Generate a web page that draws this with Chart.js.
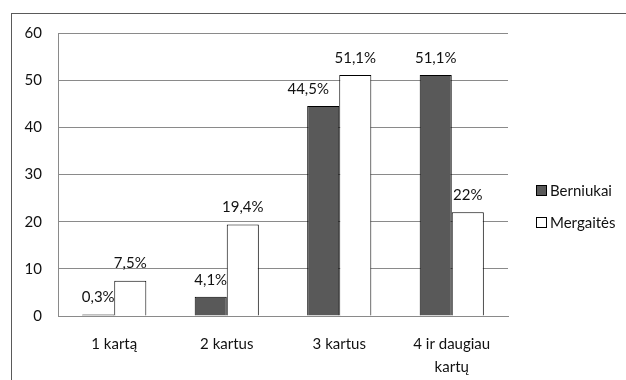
<!DOCTYPE html>
<html>
<head>
<meta charset="utf-8">
<script src="https://cdn.jsdelivr.net/npm/chart.js@4"></script>
<style>
    html, body { margin: 0; padding: 0; background: #fff; overflow: hidden; }
    #wrap { position: relative; width: 626px; height: 380px; }
    #frame { position: absolute; left: 11px; top: 13px; width: 700px; height: 500px;
             border-top: 1px solid #5a5a5a; border-left: 1px solid #5a5a5a; }
    #chart { position: absolute; left: 0; top: 0; }
    #legend { position: absolute; left: 536px; top: 179px; font-family: Lato, 'Liberation Sans', sans-serif;
              font-size: 15px; color: #111; }
    #legend div { height: 32px; line-height: 22px; white-space: nowrap; }
    #legend span.box { display: inline-block; width: 9px; height: 9px; border: 1px solid #000;
                       margin-right: 3px; vertical-align: 0px; }
</style>
</head>
<body>
<div id="wrap">
    <div id="frame"></div>
    <canvas id="chart" width="626" height="380"></canvas>
    <div id="legend"></div>
</div>
<script>
// --- données ---
const categories = ['1 kartą', '2 kartus', '3 kartus', ['4 ir daugiau', 'kartų']];
const berniukai = [0.3, 4.1, 44.5, 51.1];
const mergaites = [7.5, 19.4, 51.1, 22];
const seriesNames = ['Berniukai', 'Mergaitės'];
const yTicks = [0, 10, 20, 30, 40, 50, 60];

const police = "Lato, 'Liberation Sans', sans-serif";

// étiquettes de valeur au-dessus des barres
// (l'étiquette 44,5% est un peu décalée à gauche comme dans l'original)
const decalages = { '0-2': -15 };
const etiquettes = {
    id: 'etiquettes',
    afterDatasetsDraw(chart) {
        const ctx = chart.ctx;
        ctx.save();
        ctx.font = '15px ' + police;
        ctx.fillStyle = '#111';
        ctx.textAlign = 'center';
        ctx.textBaseline = 'middle';
        chart.data.datasets.forEach((ds, i) => {
            chart.getDatasetMeta(i).data.forEach((bar, j) => {
                const txt = String(ds.data[j]).replace('.', ',') + '%';
                const dx = decalages[i + '-' + j] || 0;
                ctx.fillText(txt, bar.x + dx, bar.y - 17);
            });
        });
        ctx.restore();
    }
};

const ctx = document.getElementById('chart').getContext('2d');
const chart = new Chart(ctx, {
    type: 'bar',
    data: {
        labels: categories,
        datasets: [{
            label: seriesNames[0],
            data: berniukai,
            backgroundColor: '#595959',
            borderColor: '#000',
            borderWidth: 1
        }, {
            label: seriesNames[1],
            data: mergaites,
            backgroundColor: '#ffffff',
            borderColor: '#000',
            borderWidth: 1
        }]
    },
    options: {
        responsive: false,
        animation: false,
        layout: { padding: { left: 0, top: 33, right: 118, bottom: 0 } },
        datasets: { bar: { categoryPercentage: 0.57, barPercentage: 1.0 } },
        scales: {
            y: {
                min: 0,
                max: 60,
                afterBuildTicks: (axis) => { axis.ticks = yTicks.map(v => ({ value: v })); },
                afterFit: (axis) => { axis.width = 58; },
                ticks: { color: '#111', padding: 16, font: { family: police, size: 15 } },
                grid: { color: '#8a8a8a', drawTicks: false },
                border: { display: true, color: '#8a8a8a' }
            },
            x: {
                afterFit: (axis) => { axis.height = 64; },
                ticks: { color: '#111', padding: 17, maxRotation: 0,
                         font: { family: police, size: 15, lineHeight: 1.5 } },
                grid: { display: false, drawTicks: false },
                border: { display: true, color: '#8a8a8a' }
            }
        },
        plugins: {
            legend: { display: false },
            tooltip: { enabled: false }
        }
    },
    plugins: [etiquettes]
});

// légende
const legende = document.getElementById('legend');
chart.data.datasets.forEach(ds => {
    const ligne = document.createElement('div');
    ligne.innerHTML = '<span class="box" style="background:' + ds.backgroundColor + '"></span>' + ds.label;
    legende.appendChild(ligne);
});
</script>
</body>
</html>
